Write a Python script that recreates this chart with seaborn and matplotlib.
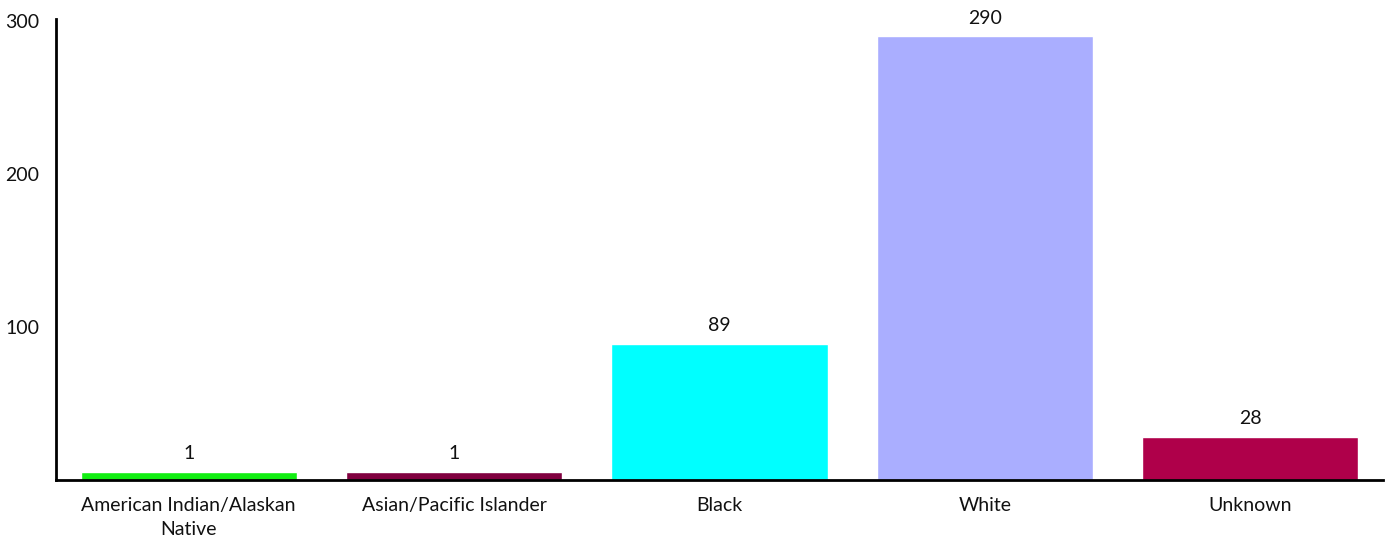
import numpy as np
import pandas as pd
import matplotlib
matplotlib.use("Agg")
import matplotlib.pyplot as plt
import seaborn as sns

categories = ["American Indian/Alaskan\nNative", "Asian/Pacific Islander", "Black", "White", "Unknown"]
values = [1, 1, 89, 290, 28]
colors = ["#11EE11", "#80003F", "#00FFFF", "#AAAEFF", "#AF004A"]
yticks = [100, 200, 300]

sns.set_style("white")
plt.rcParams["font.family"] = ["Lato", "DejaVu Sans"]

# very small counts get a minimum visible bar height, as in the reference
display = np.maximum(np.array(values, dtype=float), 5.5)
df = pd.DataFrame({"cat": categories, "val": display})

fig = plt.figure(figsize=(13.91, 5.42), dpi=100)
ax = fig.add_axes([56/1391, 1 - 480/542, (1383 - 56)/1391, (480 - 21)/542])
sns.barplot(data=df, x="cat", y="val", hue="cat", palette=colors, legend=False,
            width=0.814, ax=ax, saturation=1)

for i, (v, d) in enumerate(zip(values, display)):
    ax.annotate(str(v), (i, d), xytext=(0, 7), textcoords="offset points",
                ha="center", va="bottom", fontsize=14, color="#111111")

ax.set_xlim(-0.5, 4.5)
ax.set_ylim(0, 300)
ax.set_yticks(yticks)
ax.set_yticklabels([str(t) for t in yticks], fontsize=14, color="#111111")
ax.set_xticks(range(len(categories)))
ax.set_xticklabels(categories, fontsize=14, color="#111111", linespacing=1.5)
ax.tick_params(axis="x", length=0, pad=12)
ax.tick_params(axis="y", length=0, pad=12)
ax.set_xlabel("")
ax.set_ylabel("")
for s in ["top", "right"]:
    ax.spines[s].set_visible(False)
for s in ["left", "bottom"]:
    ax.spines[s].set_color("black")
    ax.spines[s].set_linewidth(2)
ax.spines["left"].set_bounds(0, 301)
ax.spines["left"].set_clip_on(False)

fig.savefig("out.png", dpi=100)
